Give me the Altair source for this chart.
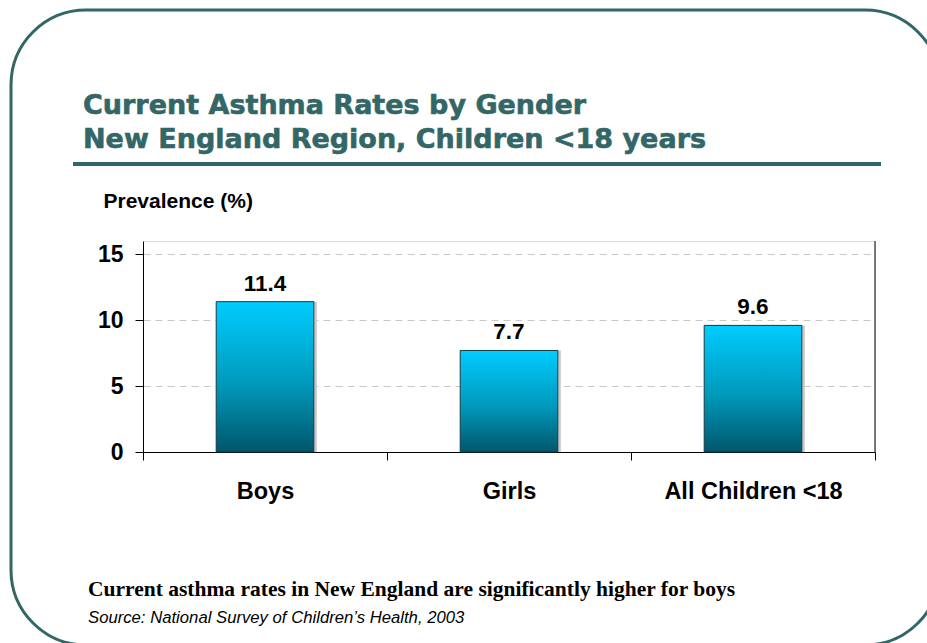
import altair as alt
import pandas as pd

# ---- data ----
categories = ["Boys", "Girls", "All Children <18"]
prevalence = [11.4, 7.7, 9.6]
y_ticks = [0, 5, 10, 15]

title_line1 = "Current Asthma Rates by Gender"
title_line2 = "New England Region, Children <18 years"
y_title = "Prevalence (%)"
footnote = "Current asthma rates in New England are significantly higher for boys"
source = "Source: National Survey of Children\u2019s Health, 2003"

df = pd.DataFrame({"category": categories, "value": prevalence})
one = pd.DataFrame({"k": [0]})

W, H = 732, 211
TEAL = "#336666"
SANS = "Liberation Sans"

x_enc = alt.X(
    "category:N", sort=categories,
    scale=alt.Scale(paddingInner=0, paddingOuter=0),
    axis=alt.Axis(title=None, labelAngle=0, labelFontSize=23.5, labelFontWeight="bold",
                  labelColor="black", labelFont=SANS, labelPadding=19, labelLimit=400,
                  tickBand="extent", tickSize=8, tickColor="black", domainColor="black",
                  grid=False),
)
y_enc = alt.Y(
    "value:Q",
    scale=alt.Scale(domain=[0, 16], nice=False),
    axis=alt.Axis(values=y_ticks, title=y_title, titleAngle=0, titleAlign="left",
                  titleBaseline="alphabetic", titleX=-40, titleY=-34, titleFontSize=21,
                  titleFontWeight="bold", titleColor="black", titleFont=SANS,
                  labelFontSize=23, labelFontWeight="bold", labelColor="black", labelFont=SANS,
                  labelPadding=12, tickSize=8, tickColor="black", domainColor="black",
                  grid=True, gridDash=[7, 5], gridColor="#c8c8c8"),
)

grad = alt.Gradient(
    gradient="linear",
    stops=[alt.GradientStop(color="#00CCFF", offset=0),
           alt.GradientStop(color="#0099BB", offset=0.55),
           alt.GradientStop(color="#00566B", offset=1)],
    x1=0, x2=0, y1=0, y2=1,
)

BAND = alt.RelativeBandSize(0.4)
shadow = alt.Chart(df).mark_bar(color="#c8c8c8", xOffset=3, width=BAND).encode(x=x_enc, y=y_enc)
bars = alt.Chart(df).mark_bar(color=grad, stroke="#103C46", strokeWidth=1, width=BAND).encode(
    x=x_enc, y=y_enc)
labels = alt.Chart(df).mark_text(dy=-11, baseline="alphabetic", fontSize=22.5, fontWeight="bold",
                                 font=SANS, color="black").encode(
    x=alt.X("category:N", sort=categories), y="value:Q",
    text=alt.Text("value:Q", format=".1f"))

right_edge = alt.Chart(one).mark_rule(color="black", strokeWidth=1).encode(
    x=alt.value(W), y=alt.value(0), y2=alt.value(H))

border = alt.Chart(one).mark_rect(fillOpacity=0, stroke=TEAL, strokeWidth=3, cornerRadius=75).encode(
    x=alt.value(-132), x2=alt.value(797), y=alt.value(-231), y2=alt.value(404))

title_style = dict(align="left", baseline="alphabetic", font="DejaVu Sans", fontWeight="bold",
                   fontSize=27, color=TEAL, stroke=TEAL, strokeWidth=0.6)
t1 = alt.Chart(one).mark_text(**title_style).encode(
    x=alt.value(-60), y=alt.value(-127), text=alt.value(title_line1))
t2 = alt.Chart(one).mark_text(**title_style).encode(
    x=alt.value(-60), y=alt.value(-93), text=alt.value(title_line2))
rule = alt.Chart(one).mark_rule(color=TEAL, strokeWidth=4).encode(
    x=alt.value(-70), x2=alt.value(738), y=alt.value(-77))

f1 = alt.Chart(one).mark_text(align="left", baseline="alphabetic", font="Liberation Serif",
                              fontWeight="bold", fontSize=21.5, color="black").encode(
    x=alt.value(-55), y=alt.value(355), text=alt.value(footnote))
f2 = alt.Chart(one).mark_text(align="left", baseline="alphabetic", font=SANS,
                              fontStyle="italic", fontSize=16.7, color="black").encode(
    x=alt.value(-55), y=alt.value(382), text=alt.value(source))

chart = alt.layer(border, rule, t1, t2, shadow, bars, right_edge, labels, f1, f2).properties(
    width=W, height=H,
    padding={"left": 143, "top": 241, "right": 52, "bottom": 191},
    autosize=alt.AutoSizeParams(type="none"),
).configure_view(stroke="#888888", strokeWidth=1).configure(background="white")

chart.save("out.html", embed_options={"renderer": "svg", "actions": False})
